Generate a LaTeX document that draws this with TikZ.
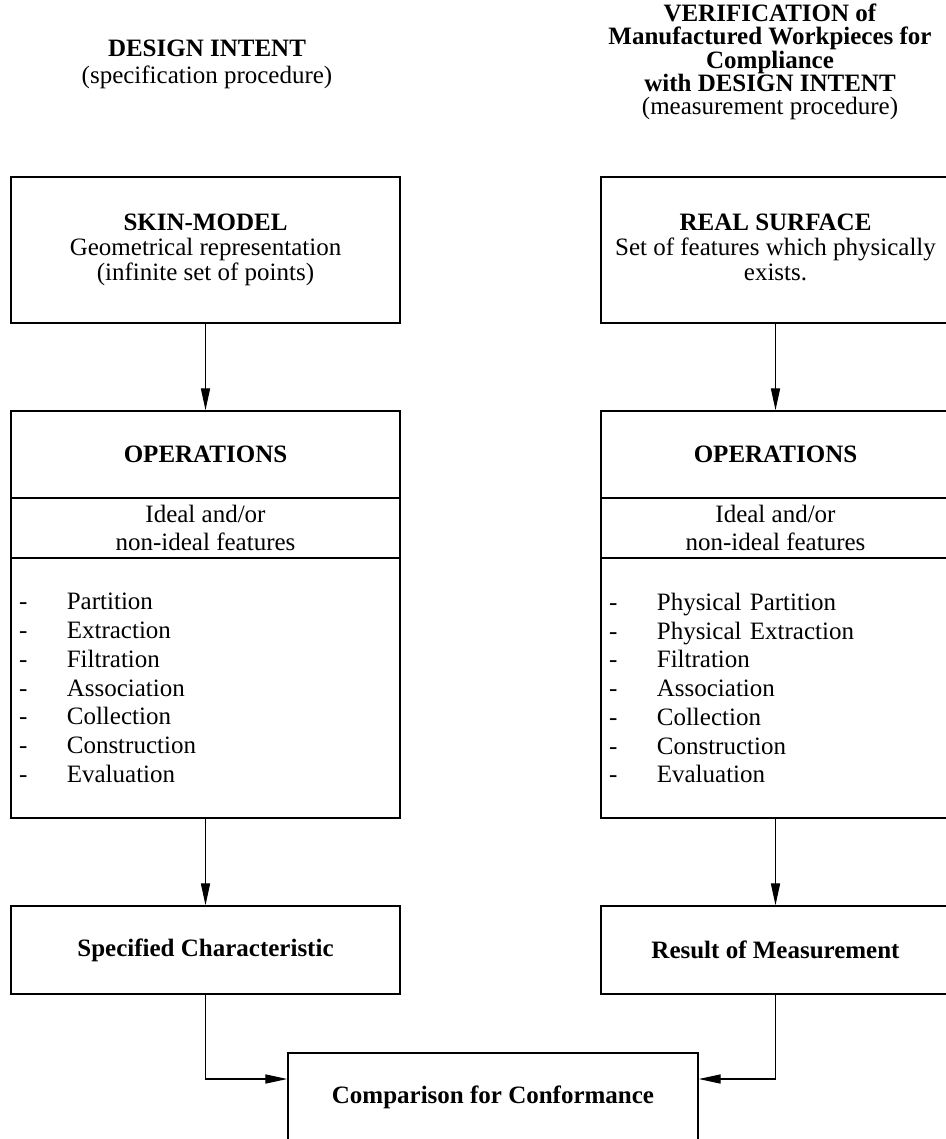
\documentclass[tikz,border=0pt]{standalone}
\usepackage{fontspec}
\setmainfont{Liberation Serif}
\usetikzlibrary{arrows.meta}
\newcommand{\opline}[1]{\makebox[22.9pt][l]{-}#1}

\begin{document}
\begin{tikzpicture}[x=0.48pt, y=-0.48pt, font=\fontsize{12}{13.8}\selectfont,
  boxc/.style={draw, line width=0.8pt, inner sep=0pt, align=center},
  flowc/.style={-{Triangle[length=10.5pt, width=4.4pt]}, line width=0.5pt}]
  \useasboundingbox (0,0) rectangle (945,1139);

  % headings
  \node[align=center, font=\fontsize{12}{13}\selectfont] (headL) at (207,64.5) {\textbf{DESIGN INTENT}\\(specification procedure)};
  \node[align=center, font=\fontsize{12}{11.2}\selectfont] (headR) at (770,62) {\textbf{VERIFICATION of}\\\textbf{Manufactured Workpieces for}\\\textbf{Compliance}\\\textbf{with DESIGN INTENT}\\(measurement procedure)};

  % specification side
  \node[boxc, minimum width=186.7pt, minimum height=70.1pt, font=\fontsize{12}{12}\selectfont] (skin) at (205.5,250) {\textbf{SKIN-MODEL}\\Geometrical representation\\(infinite set of points)};
  \node[boxc, minimum width=186.7pt, minimum height=41.8pt] (opsL) at (205.5,454.5) {\textbf{OPERATIONS}};
  \node[boxc, minimum width=186.7pt, minimum height=28.8pt] (featL) at (205.5,528) {Ideal and/or\\non-ideal features};
  \node[boxc, minimum height=124.8pt, text width=178.9pt, inner xsep=3.9pt, align=left] (listL) at (205.5,688) {\opline{Partition}\\\opline{Extraction}\\\opline{Filtration}\\\opline{Association}\\\opline{Collection}\\\opline{Construction}\\\opline{Evaluation}};
  \node[boxc, minimum width=186.7pt, minimum height=42.2pt] (spec) at (205.5,950) {\textbf{Specified Characteristic}};

  % measurement side
  \node[boxc, minimum width=167.5pt, minimum height=70.1pt, font=\fontsize{12}{12}\selectfont] (real) at (775.5,250) {\textbf{REAL SURFACE}\\Set of features which physically\\exists.\vphantom{p}};
  \node[boxc, minimum width=167.5pt, minimum height=41.8pt] (opsR) at (775.5,454.5) {\textbf{OPERATIONS}};
  \node[boxc, minimum width=167.5pt, minimum height=28.8pt] (featR) at (775.5,528) {Ideal and/or\\non-ideal features};
  \node[boxc, minimum height=124.8pt, text width=159.7pt, inner xsep=3.9pt, align=left] (listR) at (775.5,688) {\opline{Physical Partition}\\\opline{Physical Extraction}\\\opline{Filtration}\\\opline{Association}\\\opline{Collection}\\\opline{Construction}\\\opline{Evaluation}};
  \node[boxc, minimum width=167.5pt, minimum height=42.2pt] (meas) at (775.5,950) {\textbf{Result of Measurement}};

  % comparison
  \node[boxc, minimum width=196.8pt, minimum height=42.2pt] (comp) at (493,1097) {\textbf{Comparison for Conformance}};

  % flow
  \draw[flowc] (skin) -- (opsL);
  \draw[flowc] (listL) -- (spec);
  \draw[flowc] (real) -- (opsR);
  \draw[flowc] (listR) -- (meas);
  \draw[flowc] (spec.south) |- ([yshift=8.64pt]comp.west);
  \draw[flowc] (meas.south) |- ([yshift=8.64pt]comp.east);
\end{tikzpicture}
\end{document}
